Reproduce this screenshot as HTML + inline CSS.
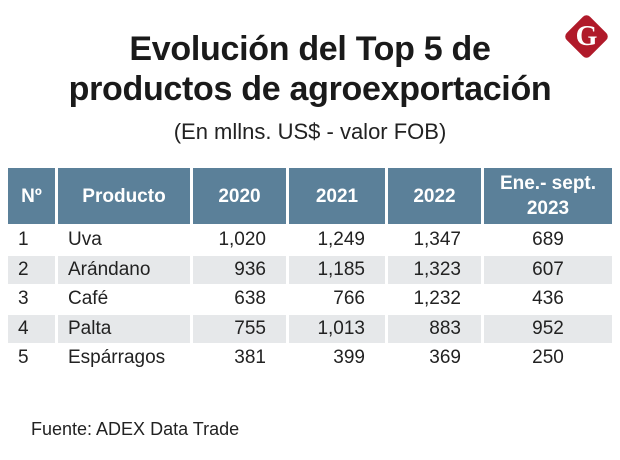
<!DOCTYPE html>
<html><head><meta charset="utf-8"><style>
body{margin:0;background:#fff;}
#root{position:relative;width:620px;height:460px;overflow:hidden;font-family:"Liberation Sans",sans-serif;color:#222;}
.t{position:absolute;left:0;width:620px;text-align:center;font-weight:bold;font-size:34px;letter-spacing:-0.3px;color:#1a1a1a;}
.c{position:absolute;box-sizing:border-box;display:flex;align-items:center;font-size:19px;}
.h{background:#5b8099;color:#fff;font-weight:bold;justify-content:center;text-align:center;line-height:25px;}
.g{background:#e6e8ea;}
.r{justify-content:flex-end;padding-right:20px;}
.m{justify-content:center;}
.l{padding-left:10px;}
</style></head><body>
<div id="root">
<div class="t" style="top:30px">Evolución del Top 5 de</div>
<div class="t" style="top:70px">productos de agroexportación</div>
<div style="position:absolute;top:119px;left:0;width:620px;text-align:center;font-size:22px">(En mllns. US$ - valor FOB)</div>
<div style="position:absolute;left:570px;top:20px;width:33px;height:33px;background:#b01a2a;border-radius:5px;transform:rotate(45deg)"></div>
<div style="position:absolute;left:570px;top:20px;width:33px;height:33px;line-height:33px;text-align:center;color:#fff;font-weight:bold;font-size:28px;font-family:'Liberation Serif',serif">G</div>
<div id="tbl"></div>
<div style="position:absolute;left:31px;top:419px;font-size:18px">Fuente: ADEX Data Trade</div>
</div>
<script>
const headers=["Nº","Producto","2020","2021","2022","Ene.- sept.<br>2023"];
const products=["Uva","Arándano","Café","Palta","Espárragos"];
const v2020=["1,020","936","638","755","381"];
const v2021=["1,249","1,185","766","1,013","399"];
const v2022=["1,347","1,323","1,232","883","369"];
const v2023=["689","607","436","952","250"];
const cx=[[8,55],[58,190],[193,286],[289,385],[388,481],[484,612]];
const tbl=document.getElementById('tbl');
function cell(x,y,w,h,cls,html){const d=document.createElement('div');d.className='c '+cls;d.style.cssText=`left:${x}px;top:${y}px;width:${w}px;height:${h}px`;d.innerHTML=html;tbl.appendChild(d);return d;}
headers.forEach((hd,i)=>{const d=cell(cx[i][0],168,cx[i][1]-cx[i][0],56,'h',hd);

});
products.forEach((p,r)=>{const y=226+r*29.5;const g=r%2?' g':'';
const vals=[String(r+1),p,v2020[r],v2021[r],v2022[r],v2023[r]];
const cls=['l','l','r','r','r','m'];
vals.forEach((v,i)=>{const d=cell(cx[i][0],y,cx[i][1]-cx[i][0],28,cls[i]+g,v);

});});
</script>
</body></html>
